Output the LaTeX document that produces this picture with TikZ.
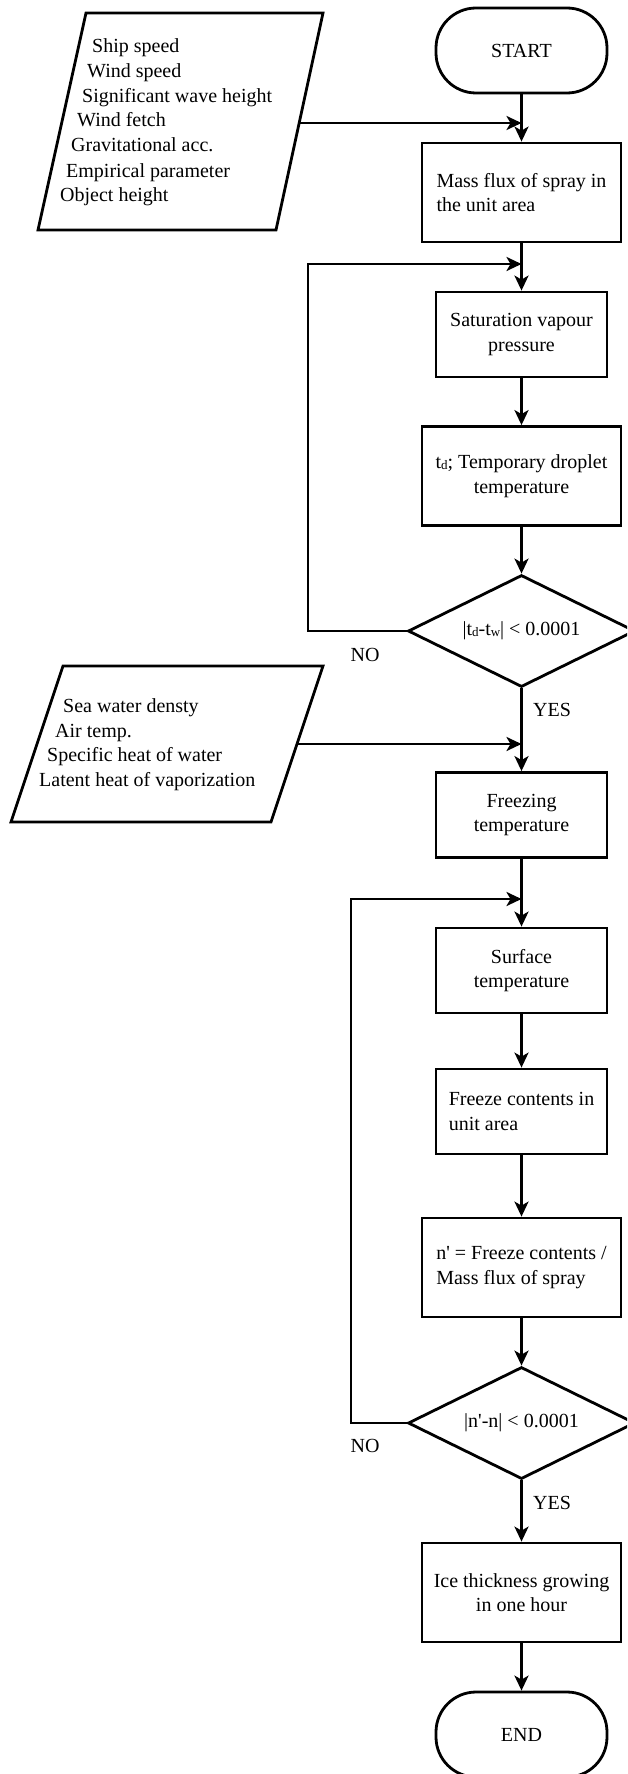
\documentclass[tikz,border=0pt]{standalone}
\usepackage{fontspec}
\setmainfont{Liberation Serif}
\usetikzlibrary{arrows.meta,shapes.geometric}
\newcommand\smallsub[1]{\raisebox{-1pt}{\fontsize{13}{13}\selectfont #1}}
\begin{document}
\begin{tikzpicture}[x=1pt,y=-1pt,
  every node/.style={font=\fontsize{20}{24.5}\selectfont, text=black},
  lw/.style={line width=2.8pt},
  arr/.style={lw, -{Stealth[length=15pt,width=14pt,inset=4pt]}},
  terminal/.style={lw, draw, rectangle, rounded corners=40pt, minimum width=171pt, minimum height=85pt, inner sep=0pt},
  wide/.style={lw, draw, rectangle, minimum width=199pt, minimum height=99pt, align=center, inner sep=0pt},
  narrow/.style={lw, draw, rectangle, minimum width=171pt, minimum height=85pt, align=center, inner sep=0pt},
  decision/.style={lw, draw, diamond, shape aspect=2, minimum width=227pt, minimum height=112pt, inner sep=0pt},
  inputtext/.style={anchor=west, inner sep=0pt},
  lbl/.style={inner sep=0pt}]
\clip (0,0) rectangle (627,1774);
\fill[white] (0,0) rectangle (627,1774);

% main column
\node[terminal] (start) at (521.5,50.5) {START};
\node[wide, align=left] (mass) at (521.5,192.5) {\raisebox{-2pt}{Mass flux of spray in}\\\raisebox{-2pt}{the unit area}};
\node[narrow] (sat) at (521.5,334.5) {Saturation vapour\\pressure};
\node[wide] (td) at (521.5,476) {t\smallsub{d}; Temporary droplet\\temperature};
\node[decision] (d1) at (521.5,631) {|t\smallsub{d}-t\smallsub{w}| \textless{} 0.0001};
\node[narrow] (frz) at (521.5,815) {Freezing\\temperature};
\node[narrow] (surf) at (521.5,970.5) {Surface\\temperature};
\node[narrow, align=left] (fc) at (521.5,1111.5) {Freeze contents in\\unit area};
\node[wide, align=left] (np) at (521.5,1267.5) {n\textquotesingle{} = Freeze contents /\\Mass flux of spray};
\node[decision] (d2) at (521.5,1423) {|n\textquotesingle-n| \textless{} 0.0001};
\node[wide] (ice) at (521.5,1592.5) {Ice thickness growing\\in one hour};
\node[terminal] (end) at (521.5,1734.5) {END};

% labels
\node[lbl] (no1) at (365,655) {NO};
\node[lbl] (yes1) at (552,710) {YES};
\node[lbl] (no2) at (365,1446) {NO};
\node[lbl] (yes2) at (552,1503) {YES};

% input parallelogram 1
\draw[lw] (86,13) -- (323,13) -- (276,230) -- (38,230) -- cycle;
\node[inputtext] (i1) at (92,48) {\strut Ship speed};
\node[inputtext] (i2) at (87,73) {\strut Wind speed};
\node[inputtext] (i3) at (82,98) {\strut Significant wave height};
\node[inputtext] (i4) at (77,122) {\strut Wind fetch};
\node[inputtext] (i5) at (71,147) {\strut Gravitational acc.};
\node[inputtext] (i6) at (66,173) {\strut Empirical parameter};
\node[inputtext] (i7) at (60,197) {\strut Object height};
\coordinate (p1out) at (299,123);

% input parallelogram 2
\draw[lw] (63,666) -- (323,666) -- (271,822) -- (11,822) -- cycle;
\node[inputtext] (j1) at (63,708) {\strut Sea water densty};
\node[inputtext] (j2) at (55,733) {\strut Air temp.};
\node[inputtext] (j3) at (47,757) {\strut Specific heat of water};
\node[inputtext] (j4) at (39,782) {\strut Latent heat of vaporization};
\coordinate (p2out) at (296,744);

% loop corners
\coordinate (loop1) at (308,264);
\coordinate (loop2) at (351,899);

% connectors
\draw[arr] (start) -- (mass);
\draw[arr] (p1out) -- (p1out -| start.south);
\draw[arr] (mass) -- (sat);
\draw[arr] (d1.west) -| (loop1) -- (loop1 -| sat.north);
\draw[arr] (sat) -- (td);
\draw[arr] (td) -- (d1.north);
\draw[arr] (d1.south) -- (frz);
\draw[arr] (p2out) -- (p2out -| frz.north);
\draw[arr] (frz) -- (surf);
\draw[arr] (d2.west) -| (loop2) -- (loop2 -| surf.north);
\draw[arr] (surf) -- (fc);
\draw[arr] (fc) -- (np);
\draw[arr] (np) -- (d2.north);
\draw[arr] (d2.south) -- (ice);
\draw[arr] (ice) -- (end);
\end{tikzpicture}
\end{document}
